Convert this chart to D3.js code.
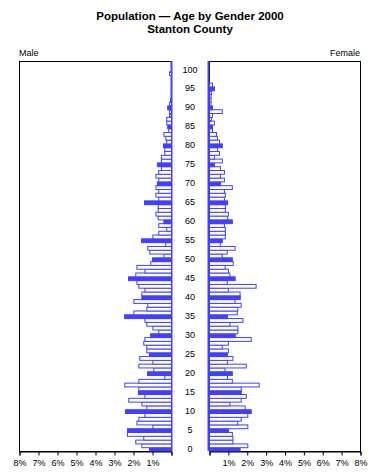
<!DOCTYPE html>
<html>
<head>
<meta charset="utf-8">
<script src="https://cdn.jsdelivr.net/npm/d3@7"></script>
<style>
  body { margin: 0; background: #fff; }
  text { font-family: "Liberation Sans", Arial, sans-serif; fill: #000; }
</style>
</head>
<body>
<div class="chart"></div>
<script>
// ages 0..100, percent of county population
var ages = d3.range(0, 101);
var male = [1.16, 1.56, 1.88, 1.46, 2.32, 2.32, 0.98, 1.82, 1.72, 1.40,
            2.42, 1.30, 1.56, 2.25, 1.40, 1.74, 1.72, 2.46, 1.72, 0.35,
            1.26, 0.93, 1.72, 0.98, 1.67, 1.16, 1.30, 1.30, 1.46, 1.40,
            1.10, 0.67, 0.98, 1.30, 1.40, 2.47, 1.98, 1.30, 1.25, 1.98,
            1.56, 1.56, 1.40, 1.72, 1.82, 2.26, 1.88, 1.40, 1.82, 1.09,
            1.00, 0.40, 1.14, 1.25, 0.30, 1.58, 0.98, 0.67, 0.25, 0.67,
            0.40, 0.70, 0.82, 0.70, 0.70, 1.42, 0.67, 0.82, 0.67, 0.82,
            0.74, 0.67, 0.82, 0.67, 0.53, 0.74, 0.53, 0.53, 0.35, 0.35,
            0.42, 0.25, 0.30, 0.40, 0.15, 0.20, 0.25, 0.25, 0.10, 0.10,
            0.20, 0.10, 0.05, 0, 0, 0, 0, 0, 0, 0.10,
            0];
var female = [1.62, 2.03, 1.24, 1.24, 1.21, 1.00, 2.03, 1.50, 1.68, 2.03,
              2.21, 1.89, 1.08, 1.68, 1.95, 1.68, 1.68, 2.63, 1.21, 0.95,
              1.21, 0.82, 1.95, 0.95, 1.24, 0.95, 1.00, 0.68, 1.00, 2.21,
              1.37, 1.50, 1.50, 1.08, 1.77, 0.95, 1.47, 1.50, 1.68, 1.35,
              1.63, 1.62, 1.00, 2.47, 0.94, 1.36, 1.08, 1.00, 0.83, 1.26,
              1.21, 0.67, 0.94, 1.36, 0.57, 0.68, 0.84, 0.84, 0.84, 0.79,
              1.21, 0.96, 1.00, 0.84, 0.84, 0.96, 0.79, 0.84, 0.79, 1.21,
              0.58, 0.79, 0.58, 0.79, 0.58, 0.26, 0.68, 0.26, 0.53, 0.42,
              0.68, 0.53, 0.42, 0.37, 0.16, 0.16, 0.26, 0.10, 0.16, 0.68,
              0.16, 0.08, 0.08, 0.08, 0.10, 0.26, 0.16, 0, 0, 0,
              0];
var ageLabels = d3.range(0, 101, 5);
var pctTicks = d3.range(0, 9);

var blue = '#4040ff';
var W = 380, H = 475;

var svg = d3.select('.chart').append('svg')
    .attr('width', W)
    .attr('height', H);

var xL = d3.scaleLinear().domain([0, 8]).range([171, 19]);
var xR = d3.scaleLinear().domain([0, 8]).range([209, 360]);
var y = d3.scaleLinear().domain([0, 102.7]).range([451, 61]);

// title
svg.append('text').attr('x', 190).attr('y', 20)
    .attr('text-anchor', 'middle').style('font-weight', 'bold').style('font-size', '11.5px')
    .text('Population \u2014 Age by Gender 2000');
svg.append('text').attr('x', 190).attr('y', 33)
    .attr('text-anchor', 'middle').style('font-weight', 'bold').style('font-size', '11.5px')
    .text('Stanton County');

svg.append('text').attr('x', 19).attr('y', 56).style('font-size', '9px').text('Male');
svg.append('text').attr('x', 360).attr('y', 56).attr('text-anchor', 'end').style('font-size', '9px').text('Female');

// panel frames
[[xL(8), xL(0)], [xR(0), xR(8)]].forEach(function(p) {
  svg.append('rect')
      .attr('x', p[0] + 0.5).attr('y', y(102.7) + 0.5)
      .attr('width', p[1] - p[0]).attr('height', y(0) - y(102.7))
      .attr('fill', 'none').attr('stroke', '#000');
});

// baselines in blue
svg.append('line').attr('x1', xL(0) + 0.5).attr('x2', xL(0) + 0.5)
    .attr('y1', y(102.7)).attr('y2', y(0)).attr('stroke', blue).attr('stroke-width', 2);
svg.append('line').attr('x1', xR(0) - 0.5).attr('x2', xR(0) - 0.5)
    .attr('y1', y(102.7)).attr('y2', y(0)).attr('stroke', blue).attr('stroke-width', 2);

function drawSide(vals, x, left) {
  svg.append('g').selectAll('rect')
      .data(ages)
      .enter().append('rect')
      .attr('x', function(a) { return left ? x(vals[a]) + 0.5 : x(0) + 0.5; })
      .attr('width', function(a) { return Math.abs(x(vals[a]) - x(0)); })
      .attr('y', function(a) { return y(a + 1) + 0.5; })
      .attr('height', function(a) { return y(a) - y(a + 1); })
      .attr('fill', function(a) { return a % 5 === 0 ? blue : '#fff'; })
      .attr('stroke', blue)
      .attr('stroke-width', 1)
      .style('display', function(a) { return vals[a] > 0 ? null : 'none'; });
}
drawSide(male, xL, true);
drawSide(female, xR, false);

// age labels in the middle
svg.append('g').selectAll('text')
    .data(ageLabels)
    .enter().append('text')
    .attr('x', 190)
    .attr('y', function(a) { return y(a + 0.5); })
    .attr('dy', '0.35em')
    .attr('text-anchor', 'middle')
    .style('font-size', '9px')
    .text(function(a) { return a; });

// bottom axes
function pctAxis(x) {
  return d3.axisBottom(x).tickValues(pctTicks).tickSize(4)
      .tickFormat(function(d) { return d === 0 ? '' : d + '%'; });
}
[xL, xR].forEach(function(x) {
  var g = svg.append('g')
      .attr('transform', 'translate(0.5,' + (y(0) + 0.5) + ')')
      .call(pctAxis(x));
  g.select('.domain').attr('stroke', '#000');
  g.selectAll('.tick line').attr('stroke', '#000');
  g.selectAll('.tick text')
      .style('font-family', '"Liberation Sans", Arial, sans-serif')
      .style('font-size', '9px').attr('fill', '#000').attr('dy', '0.8em');
});
</script>
</body>
</html>
